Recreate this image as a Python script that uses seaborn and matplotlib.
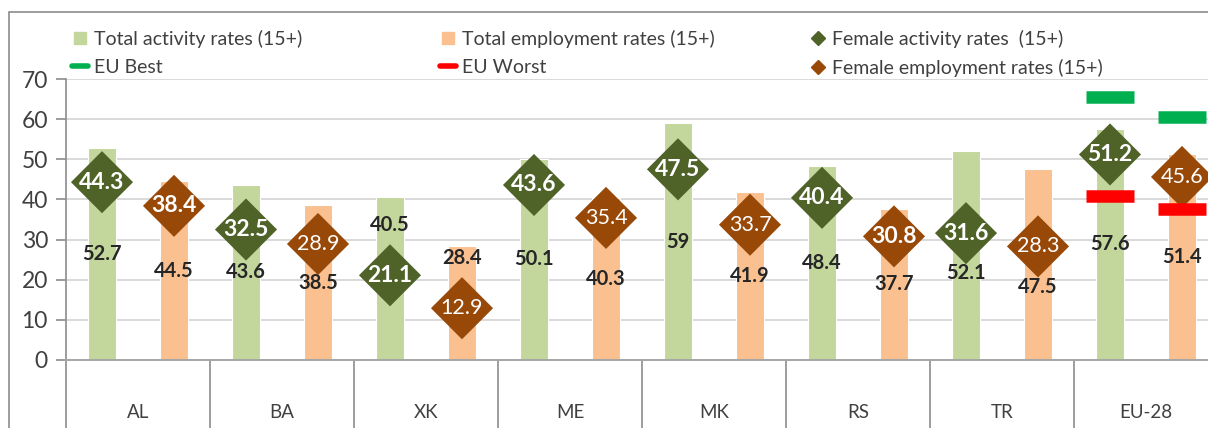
import matplotlib
matplotlib.use("Agg")
import matplotlib.pyplot as plt
from matplotlib.lines import Line2D
from matplotlib.patches import Rectangle
import seaborn as sns
import pandas as pd
import numpy as np

# ---------------- data ----------------
countries = ["AL", "BA", "XK", "ME", "MK", "RS", "TR", "EU-28"]
total_activity = [52.7, 43.6, 40.5, 50.1, 59.0, 48.4, 52.1, 57.6]
total_employment = [44.5, 38.5, 28.4, 40.3, 41.9, 37.7, 47.5, 51.4]
female_activity = [44.3, 32.5, 21.1, 43.6, 47.5, 40.4, 31.6, 51.2]
female_employment = [38.4, 28.9, 12.9, 35.4, 33.7, 30.8, 28.3, 45.6]
eu_best = [65.4, 60.6]     # activity, employment (EU-28)
eu_worst = [40.9, 37.6]
yticks = [0, 10, 20, 30, 40, 50, 60, 70]

# style-only: which female employment labels are bold
fem_emp_bold = [True, False, False, False, False, True, False, False]

# ---------------- style ----------------
C_ACT = "#C3D69B"
C_EMP = "#FAC090"
C_FACT = "#4F6228"
C_FEMP = "#984807"
C_BEST = "#00B050"
C_WORST = "#FF0000"
TXT = "#404040"

sns.set_theme(style="white")
plt.rcParams["font.family"] = ["Lato", "DejaVu Sans"]

W, H = 1208, 428
fig = plt.figure(figsize=(W / 100, H / 100), dpi=100)
x0, x1 = 66, 1218
ybot, ytop = 360, 79
ax = fig.add_axes([x0 / W, 1 - ybot / H, (x1 - x0) / W, (ybot - ytop) / H])

labels = {"act": "Total activity rates (15+)", "emp": "Total employment rates (15+)"}
df = pd.DataFrame({
    "country": countries * 2,
    "value": total_activity + total_employment,
    "series": [labels["act"]] * len(countries) + [labels["emp"]] * len(countries),
})

sns.barplot(data=df, x="country", y="value", hue="series", order=countries,
            hue_order=[labels["act"], labels["emp"]],
            palette=[C_ACT, C_EMP], saturation=1, width=1.0, gap=0.61, dodge=True,
            edgecolor="white", linewidth=0.8, legend=False, ax=ax, zorder=2)

idx = np.arange(len(countries))
off = 0.25
fdf = pd.DataFrame({
    "x": np.concatenate([idx - off, idx + off]),
    "y": female_activity + female_employment,
    "s": ["fa"] * len(countries) + ["fe"] * len(countries),
})
sns.scatterplot(data=fdf, x="x", y="y", hue="s", palette={"fa": C_FACT, "fe": C_FEMP},
                marker="D", s=1000, linewidth=0, legend=False, ax=ax, zorder=4)

# EU best / worst dashes for EU-28
eu_i = countries.index("EU-28")
for k, sgn in enumerate([-1, 1]):
    xc = eu_i + sgn * off
    ax.hlines(eu_best[k], xc - 0.17, xc + 0.17, colors=C_BEST, linewidth=9, zorder=5)
    ax.hlines(eu_worst[k], xc - 0.17, xc + 0.17, colors=C_WORST, linewidth=9, zorder=5)

# labels for total bars
for i in range(len(countries)):
    for v, fv, sgn in [(total_activity[i], female_activity[i], -1),
                       (total_employment[i], female_employment[i], 1)]:
        yc = v / 2
        if abs(yc - fv) < 7:
            yc = fv + 12.5 if fv < 25 else fv - 10
        ax.text(i + sgn * off, yc, f"{v:g}", ha="center", va="center",
                fontsize=14.5, fontweight="bold", color="#262626", zorder=6)
    ax.text(i - off, female_activity[i], f"{female_activity[i]:g}", ha="center",
            va="center", fontsize=16.5, fontweight="bold", color="white", zorder=6)
    ax.text(i + off, female_employment[i], f"{female_employment[i]:g}", ha="center",
            va="center", fontsize=16.5 if fem_emp_bold[i] else 15.5,
            fontweight="bold" if fem_emp_bold[i] else "normal", color="white", zorder=6)

# axes styling
ax.set_xlim(-0.5, len(countries) - 0.5)
ax.set_ylim(0, 70)
ax.set_yticks(yticks)
ax.set_yticklabels([str(t) for t in yticks], fontsize=16.5, color=TXT)
ax.set_xlabel("")
ax.set_ylabel("")
ax.set_xticks([])
ax.yaxis.grid(True, color="#D9D9D9", linewidth=1.4, zorder=0)
ax.set_axisbelow(True)
for sp in ["top", "right"]:
    ax.spines[sp].set_visible(False)
ax.spines["left"].set_color("#8C8C8C")
ax.spines["left"].set_linewidth(1.2)
ax.spines["bottom"].set_color("#A6A6A6")
ax.spines["bottom"].set_linewidth(1.4)
ax.tick_params(axis="y", left=True, length=7, width=1.2, color="#8C8C8C", pad=6)

# category separators and labels below axis
ext = -(428 - ybot) / ((ybot - ytop) / 70) - 1
for b in np.arange(-0.5, len(countries), 1.0):
    ax.vlines(b, ext, 0, colors="#8C8C8C", linewidth=1.2, clip_on=False, zorder=1)
for i, c in enumerate(countries):
    ax.text(i, -13.0, c, ha="center", va="center", fontsize=13.5, color=TXT, clip_on=False)

# outer chart frame
fig.patches.append(Rectangle((9 / W, -0.1), 1.2, 1 - 12 / H + 0.1, transform=fig.transFigure,
                             fill=False, edgecolor="#8C8C8C", linewidth=1.2, zorder=0))

# legends (three columns, two rows)
def sq(c):
    return Line2D([], [], marker="s", linestyle="none", markersize=8, color=c)

def dash(c):
    return Line2D([], [], color=c, linewidth=4)

def dia(c):
    return Line2D([], [], marker="D", linestyle="none", markersize=7, color=c)

cols = [
    (72, [sq(C_ACT), dash(C_BEST)], [labels["act"], "EU Best"]),
    (440, [sq(C_EMP), dash(C_WORST)], [labels["emp"], "EU Worst"]),
    (810, [dia(C_FACT), dia(C_FEMP)], ["Female activity rates  (15+)", "Female employment rates (15+)"]),
]
for xl, hs, ls in cols:
    lg = fig.legend(hs, ls, loc="upper left", bbox_to_anchor=(xl / W, 1 - 30 / H),
                    frameon=False, fontsize=14, handlelength=0.8, handletextpad=0.35,
                    labelspacing=0.55, borderaxespad=0, borderpad=0, labelcolor=TXT)

fig.savefig("out.png", dpi=100)
